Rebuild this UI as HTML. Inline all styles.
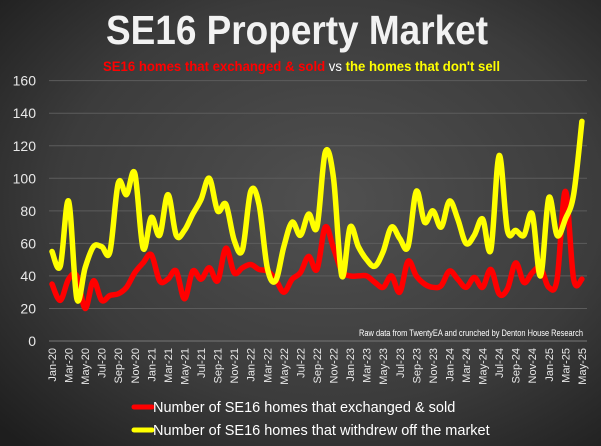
<!DOCTYPE html>
<html><head><meta charset="utf-8"><style>
html,body{margin:0;padding:0;background:#333}
svg{display:block}
text{font-family:"Liberation Sans",sans-serif}
</style></head><body>
<svg id="s" width="601" height="446" viewBox="0 0 601 446" xmlns="http://www.w3.org/2000/svg">
<defs>
<radialGradient id="bg" cx="0.55" cy="0.45" r="0.75">
<stop offset="0" stop-color="#505050"/><stop offset="0.6" stop-color="#3c3c3c"/><stop offset="1" stop-color="#1e1e1e"/>
</radialGradient>
</defs>
<rect width="601" height="446" fill="url(#bg)"/>
<text x="297" y="44" text-anchor="middle" font-size="41" font-weight="bold" fill="#f2f2f2" textLength="382" lengthAdjust="spacingAndGlyphs">SE16 Property Market</text>
<text x="103" y="71" font-size="13.5" font-weight="bold" textLength="397" lengthAdjust="spacingAndGlyphs"><tspan fill="#ff0000">SE16 homes that exchanged &amp; sold</tspan><tspan fill="#ffffff" font-weight="normal"> vs </tspan><tspan fill="#ffff00">the homes that don't sell</tspan></text>
<g id="grid"></g>
<g id="xl"></g>
<text x="583" y="336" text-anchor="end" font-size="9" fill="#ffffff" textLength="224" lengthAdjust="spacingAndGlyphs">Raw data from TwentyEA and crunched by Denton House Research</text>
<path id="red" fill="none" stroke="#ff0000" stroke-width="5.5" stroke-linejoin="round" stroke-linecap="round"/>
<path id="yel" fill="none" stroke="#ffff00" stroke-width="5.5" stroke-linejoin="round" stroke-linecap="round"/>
<line x1="134" y1="407" x2="152" y2="407" stroke="#ff0000" stroke-width="5" stroke-linecap="round"/>
<text x="153" y="412" font-size="14.5" fill="#ffffff">Number of SE16 homes that exchanged &amp; sold</text>
<line x1="134" y1="430" x2="152" y2="430" stroke="#ffff00" stroke-width="5" stroke-linecap="round"/>
<text x="153" y="435" font-size="14.5" fill="#ffffff">Number of SE16 homes that withdrew off the market</text>
</svg>
<script>
var ns="http://www.w3.org/2000/svg";
var X0=52,DX=8.28,Y0=341,K=1.627;
function yv(v){return Y0-v*K}
var g=document.getElementById('grid');
for(var v=0;v<=160;v+=20){
 var y=yv(v);
 if(v>0){var l=document.createElementNS(ns,'line');l.setAttribute('x1',49);l.setAttribute('x2',587);l.setAttribute('y1',y);l.setAttribute('y2',y);l.setAttribute('stroke','#5c5c5c');l.setAttribute('stroke-width','1');g.appendChild(l);}
 var t=document.createElementNS(ns,'text');t.setAttribute('x',36);t.setAttribute('y',y+5);t.setAttribute('text-anchor','end');t.setAttribute('font-size','14');t.setAttribute('fill','#e8e8e8');t.textContent=v;g.appendChild(t);
}
var ax=document.createElementNS(ns,'line');ax.setAttribute('x1',49);ax.setAttribute('x2',587);ax.setAttribute('y1',Y0);ax.setAttribute('y2',Y0);ax.setAttribute('stroke','#777');g.appendChild(ax);
var mn=['Jan','Mar','May','Jul','Sep','Nov'];
var xl=document.getElementById('xl');
for(var i=0;i<=64;i+=2){
 var x=X0+DX*i;var m=mn[(i%12)/2];var yr=20+Math.floor(i/12);
 var t=document.createElementNS(ns,'text');t.setAttribute('transform','translate('+(x+4)+',348) rotate(-90)');t.setAttribute('text-anchor','end');t.setAttribute('font-size','11');t.setAttribute('fill','#e8e8e8');t.textContent=m+'-'+yr;xl.appendChild(t);
}
var yel=[55,46,86,26,45,58,58,55,97,90,103,57,76,65,90,65,68,78,87,100,80,84,62,56,92,84,45,37,58,73,65,78,70,116,100,40,70,58,50,46,55,70,63,58,92,73,80,70,86,75,60,65,75,56,114,68,68,65,78,40,88,65,75,90,135];
var red=[35,25,38,40,20,37,25,28,29,33,42,48,53,37,38,43,26,43,38,45,37,57,42,45,47,44,43,38,30,38,42,52,44,70,57,43,40,40,40,36,33,40,30,49,40,35,33,34,43,38,33,39,33,44,29,32,48,36,42,45,33,38,92,38,38];
function path(d){
 var p=d.map(function(v,i){return [X0+DX*i,yv(v)]});
 var s='M'+p[0][0]+','+p[0][1];
 for(var i=0;i<p.length-1;i++){
  var a=p[i>0?i-1:i],b=p[i],c=p[i+1],e=p[i+2<p.length?i+2:i+1];
  var t=0.17;
  s+=' C'+(b[0]+(c[0]-a[0])*t)+','+(b[1]+(c[1]-a[1])*t)+' '+(c[0]-(e[0]-b[0])*t)+','+(c[1]-(e[1]-b[1])*t)+' '+c[0]+','+c[1];
 }
 return s;
}
document.getElementById('red').setAttribute('d',path(red));
document.getElementById('yel').setAttribute('d',path(yel));
</script>
</body></html>
